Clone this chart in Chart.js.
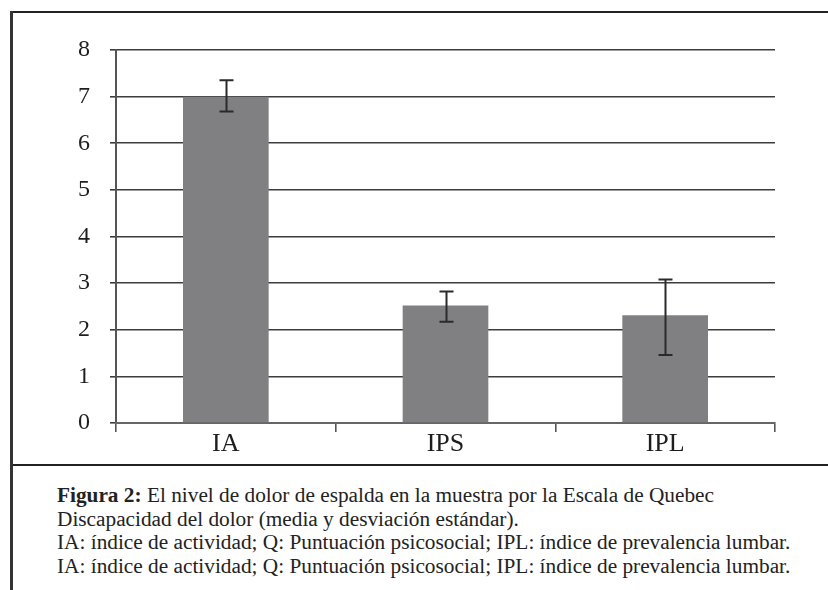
<!DOCTYPE html>
<html>
<head>
<meta charset="utf-8">
<script src="https://cdn.jsdelivr.net/npm/chart.js@4.4.1/dist/chart.umd.min.js"></script>
<style>
  html, body { margin: 0; padding: 0; background: #fff; }
  #wrap { position: relative; width: 828px; height: 590px; overflow: hidden; }
  #chartBox { position: absolute; left: 0; top: 0; width: 828px; height: 465px; }
  .frame-top { position: absolute; left: 10px; top: 11px; width: 818px; height: 2px; background: #222; }
  .frame-left { position: absolute; left: 10px; top: 11px; width: 3px; height: 579px; background: #333; }
  .sep { position: absolute; left: 13px; top: 464px; width: 815px; height: 2px; background: #222; }
  #caption {
    position: absolute; left: 57px; top: 484px;
    font-family: "Liberation Serif", serif; font-size: 21.3px; line-height: 23.5px; color: #222;
    white-space: nowrap;
  }
</style>
</head>
<body>
<div id="wrap">
  <div id="chartBox"><canvas id="painChart"></canvas></div>
  <div class="frame-top"></div>
  <div class="frame-left"></div>
  <div class="sep"></div>
  <div id="caption">
    <div><b>Figura 2:</b> El nivel de dolor de espalda en la muestra por la Escala de Quebec</div>
    <div>Discapacidad del dolor (media y desviación estándar).</div>
    <div>IA: índice de actividad; Q: Puntuación psicosocial; IPL: índice de prevalencia lumbar.</div>
    <div>IA: índice de actividad; Q: Puntuación psicosocial; IPL: índice de prevalencia lumbar.</div>
  </div>
</div>
<script>
// data
const categories = ["IA", "IPS", "IPL"];
const means = [7.0, 2.52, 2.31];
const errLow = [6.68, 2.17, 1.46];
const errHigh = [7.35, 2.82, 3.08];
const yTicks = [0, 1, 2, 3, 4, 5, 6, 7, 8];

const serif = "'Liberation Serif', 'Times New Roman', serif";
Chart.defaults.font.family = serif;

// --- error bars drawn on top of the bars ---
const errorBars = {
  id: "errorBars",
  afterDatasetsDraw(chart) {
    const ctx = chart.ctx;
    const y = chart.scales.y;
    const meta = chart.getDatasetMeta(0);
    ctx.save();
    ctx.strokeStyle = "#2a2a2a";
    ctx.lineWidth = 2;
    meta.data.forEach((bar, i) => {
      const x = Math.round(bar.x) + 0.5;
      const top = y.getPixelForValue(errHigh[i]);
      const bot = y.getPixelForValue(errLow[i]);
      ctx.beginPath();
      ctx.moveTo(x, top);
      ctx.lineTo(x, bot);
      ctx.moveTo(x - 7, top);
      ctx.lineTo(x + 7, top);
      ctx.moveTo(x - 7, bot);
      ctx.lineTo(x + 7, bot);
      ctx.stroke();
    });
    ctx.restore();
  }
};

document.addEventListener("DOMContentLoaded", function () {
  const ctx = document.getElementById("painChart").getContext("2d");
  new Chart(ctx, {
    type: "bar",
    data: {
      labels: categories,
      datasets: [{
        data: means,
        backgroundColor: "#808083",
        borderWidth: 0,
        barPercentage: 0.39,
        categoryPercentage: 1
      }]
    },
    options: {
      responsive: true,
      maintainAspectRatio: false,
      animation: false,
      layout: { padding: { left: 10, right: 53, top: 50, bottom: 0 } },
      plugins: {
        legend: { display: false },
        tooltip: { enabled: false }
      },
      scales: {
        y: {
          min: 0,
          max: 8,
          afterBuildTicks: (scale) => { scale.ticks = yTicks.map(v => ({ value: v })); },
          afterFit: (scale) => { scale.width = 106; },
          ticks: {
            padding: 20,
            color: "#1e1e1e",
            font: { family: serif, size: 24 }
          },
          grid: { color: "#3c3c3c", lineWidth: 1.6, tickLength: 6 },
          border: { color: "#555", width: 2 }
        },
        x: {
          afterFit: (scale) => { scale.height = 42; },
          ticks: {
            padding: -3,
            color: "#1e1e1e",
            font: { family: serif, size: 26 }
          },
          grid: { drawOnChartArea: false, offset: true, color: "#555", lineWidth: 1.6, tickLength: 9 },
          border: { color: "#666", width: 2 }
        }
      }
    },
    plugins: [errorBars]
  });
});
</script>
</body>
</html>
